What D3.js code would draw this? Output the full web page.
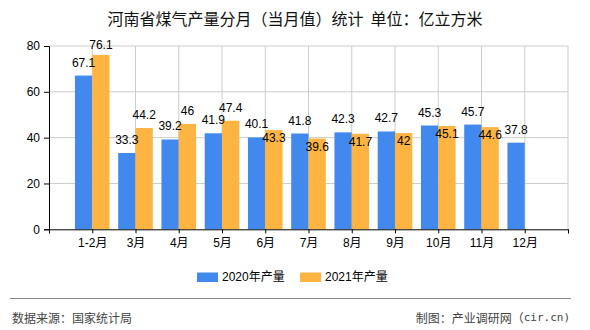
<!DOCTYPE html>
<html><head><meta charset="utf-8">
<script src="https://cdn.jsdelivr.net/npm/d3@7/dist/d3.min.js"></script>
<style>
html,body{margin:0;padding:0;background:#fff;}
text{font-family:"Liberation Sans","Noto Sans CJK SC",sans-serif;}
</style></head>
<body><svg id="c" width="590" height="330"></svg>
<script>
const categories = ["1-2月","3月","4月","5月","6月","7月","8月","9月","10月","11月","12月"];
const v2020 = [67.1,33.3,39.2,41.9,40.1,41.8,42.3,42.7,45.3,45.7,37.8];
const v2021 = [76.1,44.2,46,47.4,43.3,39.6,41.7,42,45.1,44.6,null];
const yTicks = [0,20,40,60,80];
const seriesNames = ["2020年产量","2021年产量"];
const colors = ["#4189EE","#FDB441"];

const svg = d3.select("#c");
const L=49, R=568, T=46, B=229.3;
const x = d3.scaleLinear().domain([0, categories.length+1]).range([L,R]);
const y = d3.scaleLinear().domain([0,80]).range([B,T]);
const bw = 17.3;

// grid
const g = svg.append("g");
g.selectAll(".hg").data(yTicks.slice(1)).join("line")
  .attr("x1",L).attr("x2",R).attr("y1",d=>y(d)).attr("y2",d=>y(d))
  .attr("stroke","#cccccc").attr("stroke-width",1);
const vgrid = d3.range(1, categories.length+2);
g.selectAll(".vg").data(vgrid).join("line")
  .attr("x1",d=>x(d)).attr("x2",d=>x(d)).attr("y1",T).attr("y2",B)
  .attr("stroke","#cccccc").attr("stroke-width",1);

// bars
const series=[v2020,v2021];
series.forEach((vals,s)=>{
  svg.append("g").selectAll("rect").data(vals.map((v,i)=>({v,i})).filter(d=>d.v!=null)).join("rect")
    .attr("x",d=> s===0 ? x(d.i+1)-bw : x(d.i+1))
    .attr("width",bw)
    .attr("y",d=>y(d.v)).attr("height",d=>B-y(d.v))
    .attr("fill",colors[s]);
});

// axes
const yAxis = d3.axisLeft(y).tickValues(yTicks).tickSize(5).tickPadding(4);
const ya = svg.append("g").attr("transform",`translate(${L},0)`).call(yAxis);
ya.select(".domain").attr("stroke","#000");
ya.selectAll("text").attr("font-size",12).attr("fill","#000");
const xAxis = d3.axisBottom(x).tickValues(d3.range(0,categories.length+2)).tickSize(4)
  .tickFormat(d=> (d>=1 && d<=categories.length) ? categories[d-1] : "");
const xa = svg.append("g").attr("transform",`translate(0,${B})`).call(xAxis);
xa.select(".domain").attr("stroke","#000");
xa.selectAll("text").attr("font-size",12).attr("fill","#000").attr("dy","0.9em");

// labels
const lab = svg.append("g").attr("font-size",12).attr("fill","#000").attr("text-anchor","middle");
v2020.forEach((v,i)=>{
  if(v==null) return;
  lab.append("text").attr("x",x(i+1)-bw/2).attr("y",Math.max(y(v)-13,T-1))
    .attr("dominant-baseline","central").text(v);
});
v2021.forEach((v,i)=>{
  if(v==null) return;
  const top=y(v), bTop=y(v2020[i]);
  const inside = (bTop - top) < 12;
  const ly = inside ? top+8 : Math.max(top-13, T-1);
  lab.append("text").attr("x",x(i+1)+bw/2).attr("y",ly)
    .attr("dominant-baseline","central").text(v);
});

// title
svg.append("text").attr("x",295).attr("y",18).attr("text-anchor","middle")
  .attr("dominant-baseline","central").attr("font-size",16).attr("fill","#111")
  .style("font-family","'Noto Sans CJK SC',sans-serif").style("white-space","pre")
  .text("河南省煤气产量分月（当月值）统计  单位：亿立方米");

// legend
const leg=[{x:197},{x:300}];
leg.forEach((l,i)=>{
  svg.append("rect").attr("x",l.x).attr("y",272.5).attr("width",21).attr("height",9.5).attr("fill",colors[i]);
  svg.append("text").attr("x",l.x+25).attr("y",277).attr("dominant-baseline","central")
    .attr("font-size",12).attr("fill","#000").text(seriesNames[i]);
});

// footer
svg.append("line").attr("x1",10).attr("x2",571).attr("y1",298.5).attr("y2",298.5).attr("stroke","#888").attr("stroke-width",1);
svg.append("text").attr("x",12).attr("y",317).attr("dominant-baseline","central").attr("font-size",12).attr("fill","#444")
  .style("font-family","'Noto Sans CJK SC',sans-serif").text("数据来源：国家统计局");
const ft = svg.append("text").attr("x",570).attr("y",317).attr("text-anchor","end").attr("dominant-baseline","central").attr("font-size",12).attr("fill","#444")
  .style("font-family","'Noto Sans CJK SC',sans-serif");
ft.append("tspan").text("制图：产业调研网（");
ft.append("tspan").style("font-family","'DejaVu Sans Mono',monospace").attr("font-size",11).text("cir.cn)");
</script></body></html>
